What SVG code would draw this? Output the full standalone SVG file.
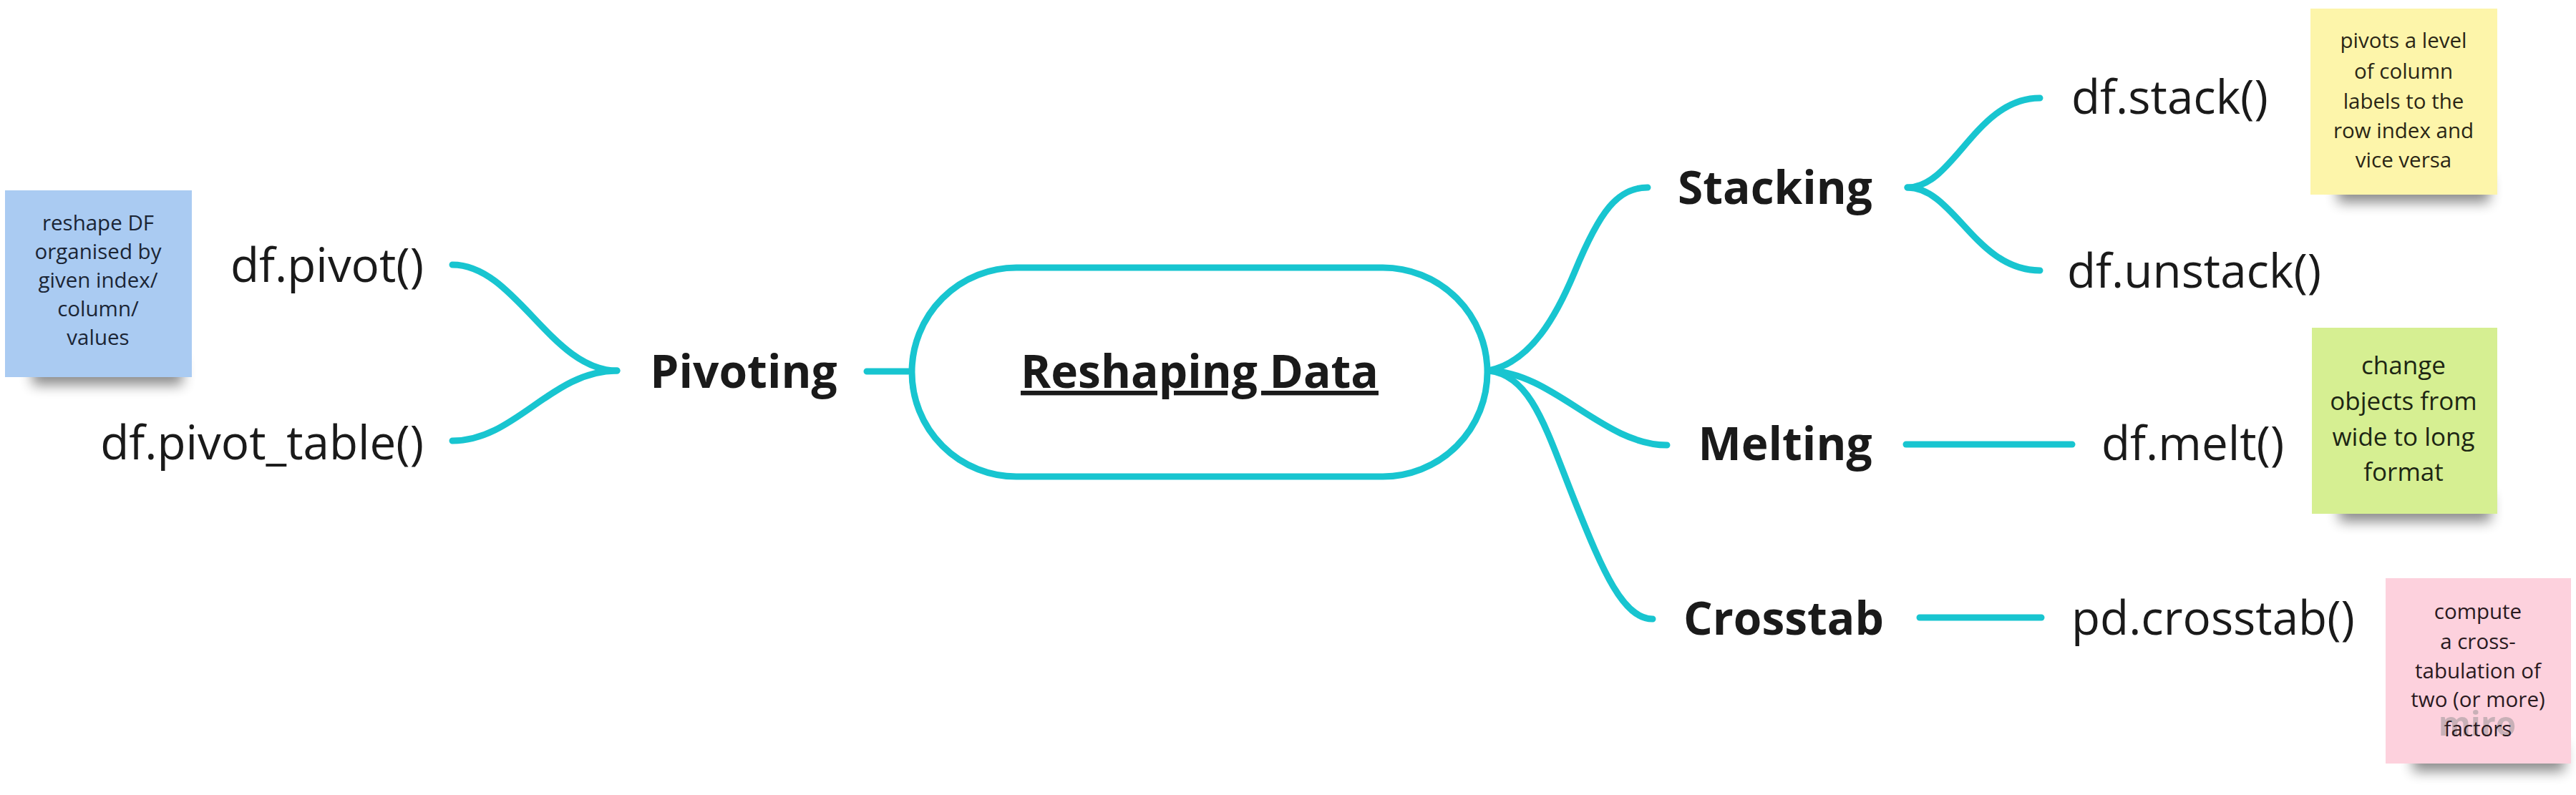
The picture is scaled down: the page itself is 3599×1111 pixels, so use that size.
<svg xmlns="http://www.w3.org/2000/svg" width="3599" height="1111" viewBox="0 0 3599 1111">
<defs>
<style>
.c{fill:none;stroke:#18c5d0;stroke-width:9;stroke-linecap:round}
.b{font-family:"Open Sans","Liberation Sans",sans-serif;font-weight:700;font-size:64px;fill:#1a1a1a}
.f{font-family:"Open Sans","Liberation Sans",sans-serif;font-size:65.5px;fill:#1a1a1a}
.s{font-family:"Open Sans","Liberation Sans",sans-serif;font-size:29.5px;text-anchor:middle}
.sh{fill:#000;opacity:.45;filter:url(#blur)}
</style>
<filter id="blur" x="-20%" y="-80%" width="140%" height="260%"><feGaussianBlur stdDeviation="9"/></filter>
</defs>
<rect width="3599" height="1111" fill="#fff"/>
<g id="connectors">
<path class="c" d="M632,370 C720,370 770,518 862,518"/>
<path class="c" d="M632,616 C720,616 770,518 862,518"/>
<line class="c" x1="1211" y1="519" x2="1269" y2="519"/>
<path class="c" d="M2080,518 C2140,505 2175,440 2200,380 C2235,295 2260,262 2302,262"/>
<path class="c" d="M2080,518 C2170,520 2240,622 2329,622"/>
<path class="c" d="M2080,518 C2140,525 2160,600 2200,700 C2240,800 2268,865 2309,865"/>
<path class="c" d="M2665,262 C2730,262 2760,137 2850,137"/>
<path class="c" d="M2665,262 C2730,262 2760,378 2850,378"/>
<line class="c" x1="2663" y1="621" x2="2895" y2="621"/>
<line class="c" x1="2682" y1="863" x2="2852" y2="863"/>
</g>
<g id="root">
<rect x="1274" y="374" width="804" height="292" rx="146" ry="146" fill="#fff" stroke="#18c5d0" stroke-width="9"/>
<text class="b" x="1676" y="542" text-anchor="middle" text-decoration="underline">Reshaping Data</text>
</g>
<g id="pivoting"><text class="b" x="1039" y="542" text-anchor="middle">Pivoting</text></g>
<g id="pivot"><text class="f" x="592" y="394" text-anchor="end">df.pivot()</text></g>
<g id="pivot_table"><text class="f" x="592" y="642" text-anchor="end">df.pivot_table()</text></g>
<g id="stacking"><text class="b" x="2480" y="285" text-anchor="middle">Stacking</text></g>
<g id="stack"><text class="f" x="2894" y="159">df.stack()</text></g>
<g id="unstack"><text class="f" x="2888" y="402">df.unstack()</text></g>
<g id="melting"><text class="b" x="2494" y="643" text-anchor="middle">Melting</text></g>
<g id="melt"><text class="f" x="2936" y="643">df.melt()</text></g>
<g id="crosstab"><text class="b" x="2492" y="887" text-anchor="middle">Crosstab</text></g>
<g id="pdcrosstab"><text class="f" x="2894" y="887">pd.crosstab()</text></g>
<g id="note-pivot">
<rect class="sh" x="45" y="500" width="210" height="38"/>
<rect x="7" y="266" width="261" height="261" fill="#aacbf2"/>
<text class="s" x="137" y="322" fill="#1b2535">reshape DF</text>
<text class="s" x="137" y="362" fill="#1b2535">organised by</text>
<text class="s" x="137" y="402" fill="#1b2535">given index/</text>
<text class="s" x="137" y="442" fill="#1b2535">column/</text>
<text class="s" x="137" y="482" fill="#1b2535">values</text>
</g>
<g id="note-stack">
<rect class="sh" x="3266" y="245" width="212" height="38"/>
<rect x="3228" y="12" width="261" height="260" fill="#fdf5aa"/>
<text class="s" x="3358" y="67" fill="#2a2616">pivots a level</text>
<text class="s" x="3358" y="110" fill="#2a2616">of column</text>
<text class="s" x="3358" y="152" fill="#2a2616">labels to the</text>
<text class="s" x="3358" y="193" fill="#2a2616">row index and</text>
<text class="s" x="3358" y="234" fill="#2a2616">vice versa</text>
</g>
<g id="note-melt">
<rect class="sh" x="3268" y="691" width="212" height="38"/>
<rect x="3230" y="458" width="259" height="260" fill="#d6ef92"/>
<text class="s" x="3358" y="523" fill="#1d2614" style="font-size:35px">change</text>
<text class="s" x="3358" y="573" fill="#1d2614" style="font-size:35px">objects from</text>
<text class="s" x="3358" y="623" fill="#1d2614" style="font-size:35px">wide to long</text>
<text class="s" x="3358" y="672" fill="#1d2614" style="font-size:35px">format</text>
</g>
<g id="note-crosstab">
<rect class="sh" x="3371" y="1040" width="212" height="38"/>
<rect x="3333" y="808" width="259" height="259" fill="#fdd1dd"/>
<text class="s" x="3462" y="865" fill="#2a1a1f">compute</text>
<text class="s" x="3462" y="907" fill="#2a1a1f">a cross-</text>
<text class="s" x="3462" y="948" fill="#2a1a1f">tabulation of</text>
<text class="s" x="3462" y="988" fill="#2a1a1f">two (or more)</text>
<text x="3461" y="1028" text-anchor="middle" font-family="Open Sans, Liberation Sans, sans-serif" font-weight="700" font-size="46" fill="#8a8a8a" opacity="0.45">miro</text>
<text class="s" x="3462" y="1029" fill="#2a1a1f">factors</text>
</g>
</svg>
